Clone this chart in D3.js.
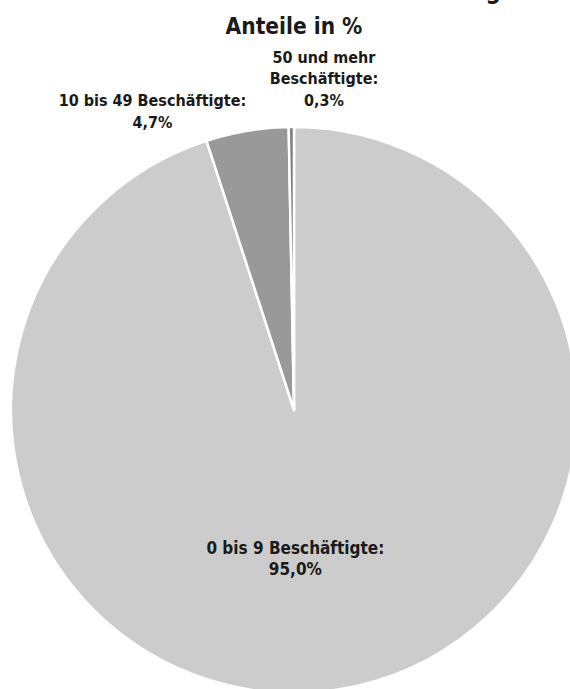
<!DOCTYPE html>
<html>
<head>
<meta charset="utf-8">
<script src="https://cdn.jsdelivr.net/npm/d3@7"></script>
<style>
  body { margin: 0; background: #fff; overflow: hidden; }
  svg text { font-family: "DejaVu Sans Condensed", "DejaVu Sans", sans-serif; font-weight: bold; fill: #1a1a1a; }
</style>
</head>
<body>
<svg id="chart"></svg>
<script>
// data
const categories = ["0 bis 9 Beschäftigte", "10 bis 49 Beschäftigte", "50 und mehr Beschäftigte"];
const labelLines = [["0 bis 9 Beschäftigte:"], ["10 bis 49 Beschäftigte:"], ["50 und mehr", "Beschäftigte:"]];
const values = [95.0, 4.7, 0.3];
const valueLabels = ["95,0%", "4,7%", "0,3%"];
const colors = ["#cccccc", "#999999", "#7f7f7f"];

const width = 570;
const height = 689;
const cx = 294, cy = 410, radius = 283;

const svg = d3.select("#chart")
    .attr("width", width)
    .attr("height", height);

// title (first line runs off the top of the picture)
svg.append("text")
    .attr("x", 501)
    .attr("y", -1)
    .attr("text-anchor", "end")
    .style("font-size", "24px")
    .text("Betriebe und ihre Verteilung");

svg.append("text")
    .attr("x", 294)
    .attr("y", 34)
    .attr("text-anchor", "middle")
    .style("font-size", "22.5px")
    .text("Anteile in %");

const pie = d3.pie().sort(null).value((d) => d);
const arcs = pie(values);

const arc = d3.arc().innerRadius(0).outerRadius(radius);

const g = svg.append("g").attr("transform", `translate(${cx},${cy})`);

g.selectAll("path")
    .data(arcs)
    .enter()
    .append("path")
    .attr("d", arc)
    .attr("fill", (d, i) => colors[i])
    .attr("stroke", "#fff")
    .attr("stroke-width", 2.5)
    .attr("stroke-linejoin", "round");

// label anchors: big slice inside, small ones outside
const labelArcs = [
    d3.arc().innerRadius(radius * 0.55).outerRadius(radius * 0.55),
    d3.arc().innerRadius(radius * 1.1).outerRadius(radius * 1.1),
    d3.arc().innerRadius(radius * 1.15).outerRadius(radius * 1.15)
];
const labelShift = [[-23, -10], [-90, 3], [33, -22]];
const labelSize = ["17px", "16px", "16px"];
const lineH = 21.5;

arcs.forEach((d, i) => {
    const [x, y] = labelArcs[i].centroid(d);
    const lines = labelLines[i].concat([valueLabels[i]]);
    const t = g.append("text")
        .attr("text-anchor", "middle")
        .style("font-size", labelSize[i]);
    lines.forEach((line, j) => {
        t.append("tspan")
            .attr("x", x + labelShift[i][0])
            .attr("y", y + labelShift[i][1] + j * lineH)
            .text(line);
    });
});
</script>
</body>
</html>
